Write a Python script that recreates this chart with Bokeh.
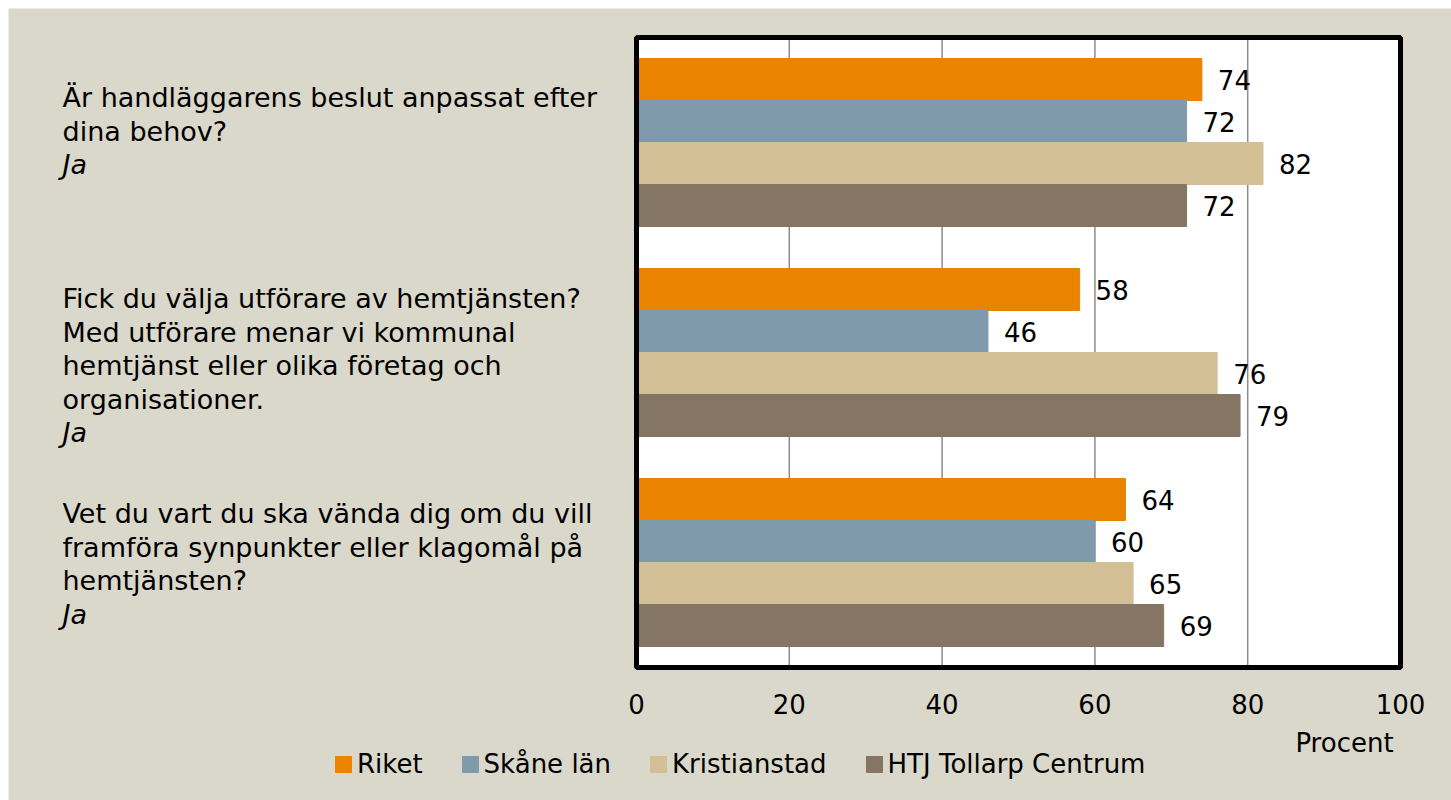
from bokeh.plotting import figure
from bokeh.models import (ColumnDataSource, Label, LabelSet, Legend, LegendItem, Range1d)
from bokeh.transform import dodge
from bokeh.core.properties import value
from bokeh.embed import file_html
from bokeh.resources import INLINE

# ---------------- data ----------------
question_lines = [
    ["Är handläggarens beslut anpassat efter", "dina behov?"],
    ["Fick du välja utförare av hemtjänsten?", "Med utförare menar vi kommunal",
     "hemtjänst eller olika företag och", "organisationer."],
    ["Vet du vart du ska vända dig om du vill", "framföra synpunkter eller klagomål på",
     "hemtjänsten?"],
]
answer_label = "Ja"
series_names = ["Riket", "Skåne län", "Kristianstad", "HTJ Tollarp Centrum"]
riket = [74, 58, 64]
skane_lan = [72, 46, 60]
kristianstad = [82, 76, 65]
htj_tollarp = [72, 79, 69]
series_colors = ["#E98300", "#7F9AAB", "#D3BF96", "#857564"]
x_ticks = [0, 20, 40, 60, 80, 100]
x_title = "Procent"

# ---------------- layout constants (canvas pixels) ----------------
FONT = "DejaVu Sans"
FS = "26px"
FS_Q = "27px"
BG = "#DAD7CB"
W, H = 1443, 792
PX0, PX100 = 628, 1392        # canvas x of value 0 and 100
CAT_PX = 210                  # pixels per category
TOP_PX = 29                   # canvas y of top of plot area

n = len(question_lines)
kx = (PX100 - PX0) / 100.0
x_start, x_end = -PX0 / kx, 100 + (W - PX100) / kx
y_top = (n - 0.5) + TOP_PX / CAT_PX
y_bottom = y_top - H / CAT_PX

def px_to_y(py):
    return y_top - py / CAT_PX

cat_y = [n - 1 - i for i in range(n)]        # first question on top
series_values = [riket, skane_lan, kristianstad, htj_tollarp]

p = figure(width=W, height=H, output_backend="svg", toolbar_location=None,
           x_range=Range1d(x_start, x_end), y_range=Range1d(y_bottom, y_top),
           x_axis_location=None, y_axis_location=None,
           min_border_left=0, min_border_right=0, min_border_top=0,
           min_border_bottom=0, margin=(8, 0, 0, 8))
p.border_fill_color = BG
p.background_fill_color = BG
p.outline_line_color = None
p.xgrid.visible = False
p.ygrid.visible = False

# white plot area
area_bottom, area_top = -0.5, n - 0.5
p.quad(left=[0], right=[100], bottom=[area_bottom], top=[area_top],
       fill_color="white", line_color=None)
# vertical grid lines
p.segment(x0=x_ticks, x1=x_ticks, y0=[area_bottom] * len(x_ticks),
          y1=[area_top] * len(x_ticks), line_color="#8C8C8C", line_width=1.5)

offsets = [0.3, 0.1, -0.1, -0.3]
items = []
for name, vals, col, off in zip(series_names, series_values, series_colors, offsets):
    src = ColumnDataSource(dict(y=cat_y, v=vals, t=[str(v) for v in vals]))
    r = p.hbar(y=dodge("y", off), left=0, right="v", height=0.2,
               source=src, fill_color=col, line_color=col, line_width=1)
    items.append(LegendItem(label=name, renderers=[r]))
    p.add_layout(LabelSet(x="v", y=dodge("y", off), text="t", source=src,
                          x_offset=16, text_baseline="middle", text_align="left",
                          text_font=value(FONT), text_font_size=value(FS),
                          text_color="black"))

# black frame around the plot area
p.quad(left=[0], right=[100], bottom=[area_bottom], top=[area_top],
       fill_color=None, line_color="black", line_width=5)

# x tick labels (placed through the x scale)
tick_src = ColumnDataSource(dict(x=x_ticks, y=[px_to_y(695)] * len(x_ticks),
                                 t=[str(t) for t in x_ticks]))
p.add_layout(LabelSet(x="x", y="y", text="t", source=tick_src,
                      text_align="center", text_baseline="middle",
                      text_font=value(FONT), text_font_size=value(FS),
                      text_color="black"))

# axis title
p.add_layout(Label(x=100, y=px_to_y(734), x_offset=-56, text=x_title,
                   text_align="center", text_baseline="middle", text_font=FONT,
                   text_font_size=FS, text_color="black"))

# question texts
first_line_px = [89, 290, 505]     # canvas y of first text line per question
line_step = 33.5
for i, lines in enumerate(question_lines):
    all_lines = lines + [answer_label]
    for j, ln in enumerate(all_lines):
        italic = (j == len(all_lines) - 1)
        p.add_layout(Label(x=0, y=px_to_y(first_line_px[i] + j * line_step),
                           x_offset=54 - PX0, text=ln, text_align="left",
                           text_baseline="middle", text_font=FONT,
                           text_font_size=FS_Q, text_color="black",
                           text_font_style="italic" if italic else "normal"))

legend = Legend(items=items, orientation="horizontal", location=(325, 21),
                glyph_width=20, glyph_height=20, label_standoff=4, spacing=37,
                padding=0, margin=0, border_line_color=None,
                background_fill_alpha=0, label_text_font=FONT,
                label_text_font_size=FS, label_height=20, label_text_color="black")
p.add_layout(legend)

open("out.html", "w").write(file_html(p, INLINE))
